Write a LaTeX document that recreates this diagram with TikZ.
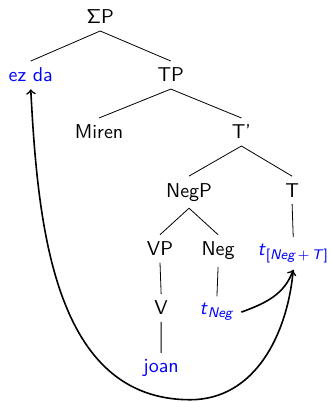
\documentclass[tikz,border=0pt]{standalone}

\begin{document}
\begin{tikzpicture}[every node/.style={font=\sffamily, anchor=base},
  lex/.style={text=blue}, move/.style={->, thick}]
\useasboundingbox (0,0) rectangle (5.80,7.06);
\node (sp) at (1.76,6.64) {$\mathsf{\Sigma}$P};
\node[lex] (ezda) at (0.54,5.62) {ez da};
\node (tp) at (3.00,5.62) {TP};
\node (miren) at (1.74,4.62) {Miren};
\node (tbar) at (4.24,4.62) {T'};
\node (negp) at (3.32,3.60) {NegP};
\node (thead) at (5.13,3.60) {T};
\node (vp) at (2.81,2.57) {VP};
\node (neg) at (3.83,2.57) {Neg};
\node[lex] (tnt) at (5.15,2.57) {\textit{t}\textsubscript{[\textit{Neg}\,+\,\textit{T}]}};
\node (v) at (2.83,1.53) {V};
\node[lex] (tneg) at (3.81,1.53) {\textit{t}\textsubscript{\textit{Neg}}};
\node[lex] (joan) at (2.83,0.51) {joan};
\coordinate (dip) at (3.34,0.04);
% branches
\draw (sp.south) -- (ezda.north) (sp.south) -- (tp.north);
\draw (tp.south) -- (miren.north) (tp.south) -- (tbar.north);
\draw (tbar.south) -- (negp.north) (tbar.south) -- (thead.north);
\draw (negp.south) -- (vp.north) (negp.south) -- (neg.north);
\draw (thead.south) -- (tnt.north);
\draw (vp.south) -- (v.north) (v.south) -- (joan.north);
\draw (neg.south) -- (tneg.north);
% movement
\draw[move] (tneg.east) to[out=20,in=-110] (tnt.south);
\draw[move] (tnt.south) to[out=-95,in=0] (dip) to[out=180,in=-87] (ezda.south);
\end{tikzpicture}
\end{document}
